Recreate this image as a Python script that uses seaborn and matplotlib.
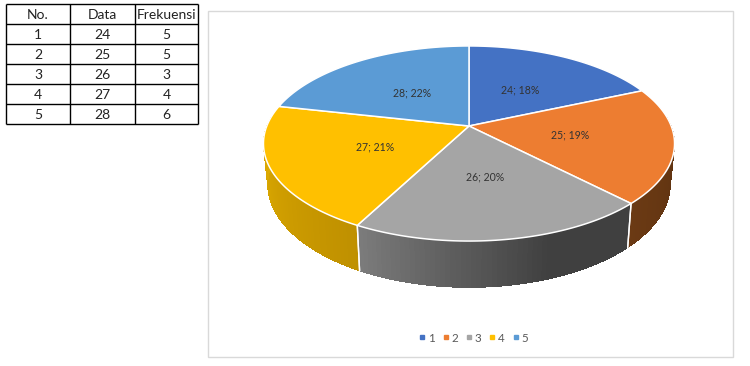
import numpy as np
import matplotlib
matplotlib.use("Agg")
import matplotlib.pyplot as plt
from matplotlib.lines import Line2D
from matplotlib.patches import Rectangle
import seaborn as sns

no = [1, 2, 3, 4, 5]
data = [24, 25, 26, 27, 28]
freq = [5, 5, 3, 4, 6]
headers = ["No.", "Data", "Frekuensi"]
colors = ["#4472C4", "#ED7D31", "#A5A5A5", "#FFC000", "#5B9BD5"]
# wall shade at the left and right end of each visible wall
wall_left = ["#2F528F", "#6B3A14", "#7C7C7C", "#E2AE00", "#41719C"]
wall_right = ["#2F528F", "#5A300F", "#404040", "#BF9000", "#41719C"]
wall_flat = [0, 0, 0.35, 0, 0]
label_radius = [0.53, 0.49, 0.445, 0.475, 0.51]

sns.set_theme(style="white")
plt.rcParams["font.family"] = ["Lato", "DejaVu Sans"]
palette = sns.color_palette(colors)

W, H = 750, 366
fig = plt.figure(figsize=(W / 100, H / 100), dpi=100, facecolor="white")
ax = fig.add_axes([0, 0, 1, 1])
ax.set_xlim(0, W)
ax.set_ylim(H, 0)
ax.axis("off")

# chart frame
ax.add_patch(Rectangle((208, 11), 525, 346, fc="white", ec="#D9D9D9", lw=1))

# perspective projection of the pie disc
CX, CY, RX, RY, K = 469.0, 126.0, 202.2, 94.4, 0.1795
CY2, RX2, RY2 = 165.5, 198.0, 100.0


def top(theta):
    u, v = np.sin(theta), np.cos(theta)
    w = 1 + K * v
    return CX + RX * u / w, CY - RY * v / w


def low(theta):
    u, v = np.sin(theta), np.cos(theta)
    w = 1 + K * v
    return CX + RX2 * u / w, CY2 - RY2 * v / w


vals = np.array(data, float)
edges = np.concatenate([[0], np.cumsum(vals)]) / vals.sum() * 2 * np.pi

# side walls (front half of the rim only)
lo_vis, hi_vis = np.pi / 2 - 0.1, 3 * np.pi / 2 + 0.1
for i in range(len(vals)):
    a, b = max(edges[i], lo_vis), min(edges[i + 1], hi_vis)
    if a >= b:
        continue
    ts = np.linspace(a, b, 60)
    c_r = np.array(matplotlib.colors.to_rgb(wall_right[i]))
    c_l = np.array(matplotlib.colors.to_rgb(wall_left[i]))
    flat = wall_flat[i]
    for t0, t1 in zip(ts[:-1], ts[1:]):
        f = np.clip(((0.5 * (t0 + t1) - a) / (b - a) - flat) / (1 - flat), 0, 1)
        # sweeping clockwise on the front runs right to left on screen
        col = c_l * f + c_r * (1 - f)
        t_end = min(t1 + 0.012, b)
        x0, y0 = top(t0); x1, y1 = top(t_end)
        x2, y2 = low(t_end); x3, y3 = low(t0)
        ax.fill([x0, x1, x2, x3], [y0, y1, y2, y3], color=col, lw=0,
                antialiased=False, zorder=2)
    # white seam at the slice's end
    for t in (a, b):
        if lo_vis + 0.01 < t < hi_vis - 0.01:
            xa, ya = top(t); xb, yb = low(t)
            ax.plot([xa, xb], [ya, yb], color="white", lw=1, zorder=3)

# top face
for i in range(len(vals)):
    ts = np.linspace(edges[i], edges[i + 1], 120)
    xs, ys = top(ts)
    ax.fill(np.r_[CX, xs], np.r_[CY, ys], facecolor=palette[i],
            edgecolor="white", lw=1.1, zorder=4, joinstyle="round")

# data labels
for i in range(len(vals)):
    mid = 0.5 * (edges[i] + edges[i + 1])
    u, v = np.sin(mid), np.cos(mid)
    w = 1 + K * v
    x = CX + label_radius[i] * RX * u / w
    y = CY - label_radius[i] * RY * v / w
    pct = round(100 * vals[i] / vals.sum())
    ax.text(x, y, f"{data[i]}; {pct}%", ha="center", va="center",
            fontsize=7.6, color="#333333", zorder=5)

# legend
handles = [Line2D([], [], ls="", marker="s", ms=3.0, color=palette[i], label=str(no[i]))
           for i in range(len(no))]
leg = ax.legend(handles=handles, ncol=5, frameon=False, loc="center",
                bbox_to_anchor=(472.5 / W, 1 - 338 / H), fontsize=8.4,
                labelcolor="#595959", handletextpad=0.0, columnspacing=0.42,
                handlelength=1.0)

# table
col_lines = [6, 70, 135, 198]
row_lines = [4, 24, 44, 64, 84, 104, 124]
ax.vlines(col_lines, row_lines[0], row_lines[-1], color="black", lw=1, zorder=6)
ax.hlines(row_lines, col_lines[0], col_lines[-1], color="black", lw=1, zorder=6)
rows = [headers] + [[str(a), str(b), str(c)] for a, b, c in zip(no, data, freq)]
for r, row in enumerate(rows):
    yc = 0.5 * (row_lines[r] + row_lines[r + 1]) + 1
    for c, txt in enumerate(row):
        xc = 0.5 * (col_lines[c] + col_lines[c + 1])
        ax.text(xc, yc, txt, ha="center", va="center", fontsize=10,
                color="#222222", zorder=7)

fig.savefig("out.png", dpi=100, facecolor="white")
